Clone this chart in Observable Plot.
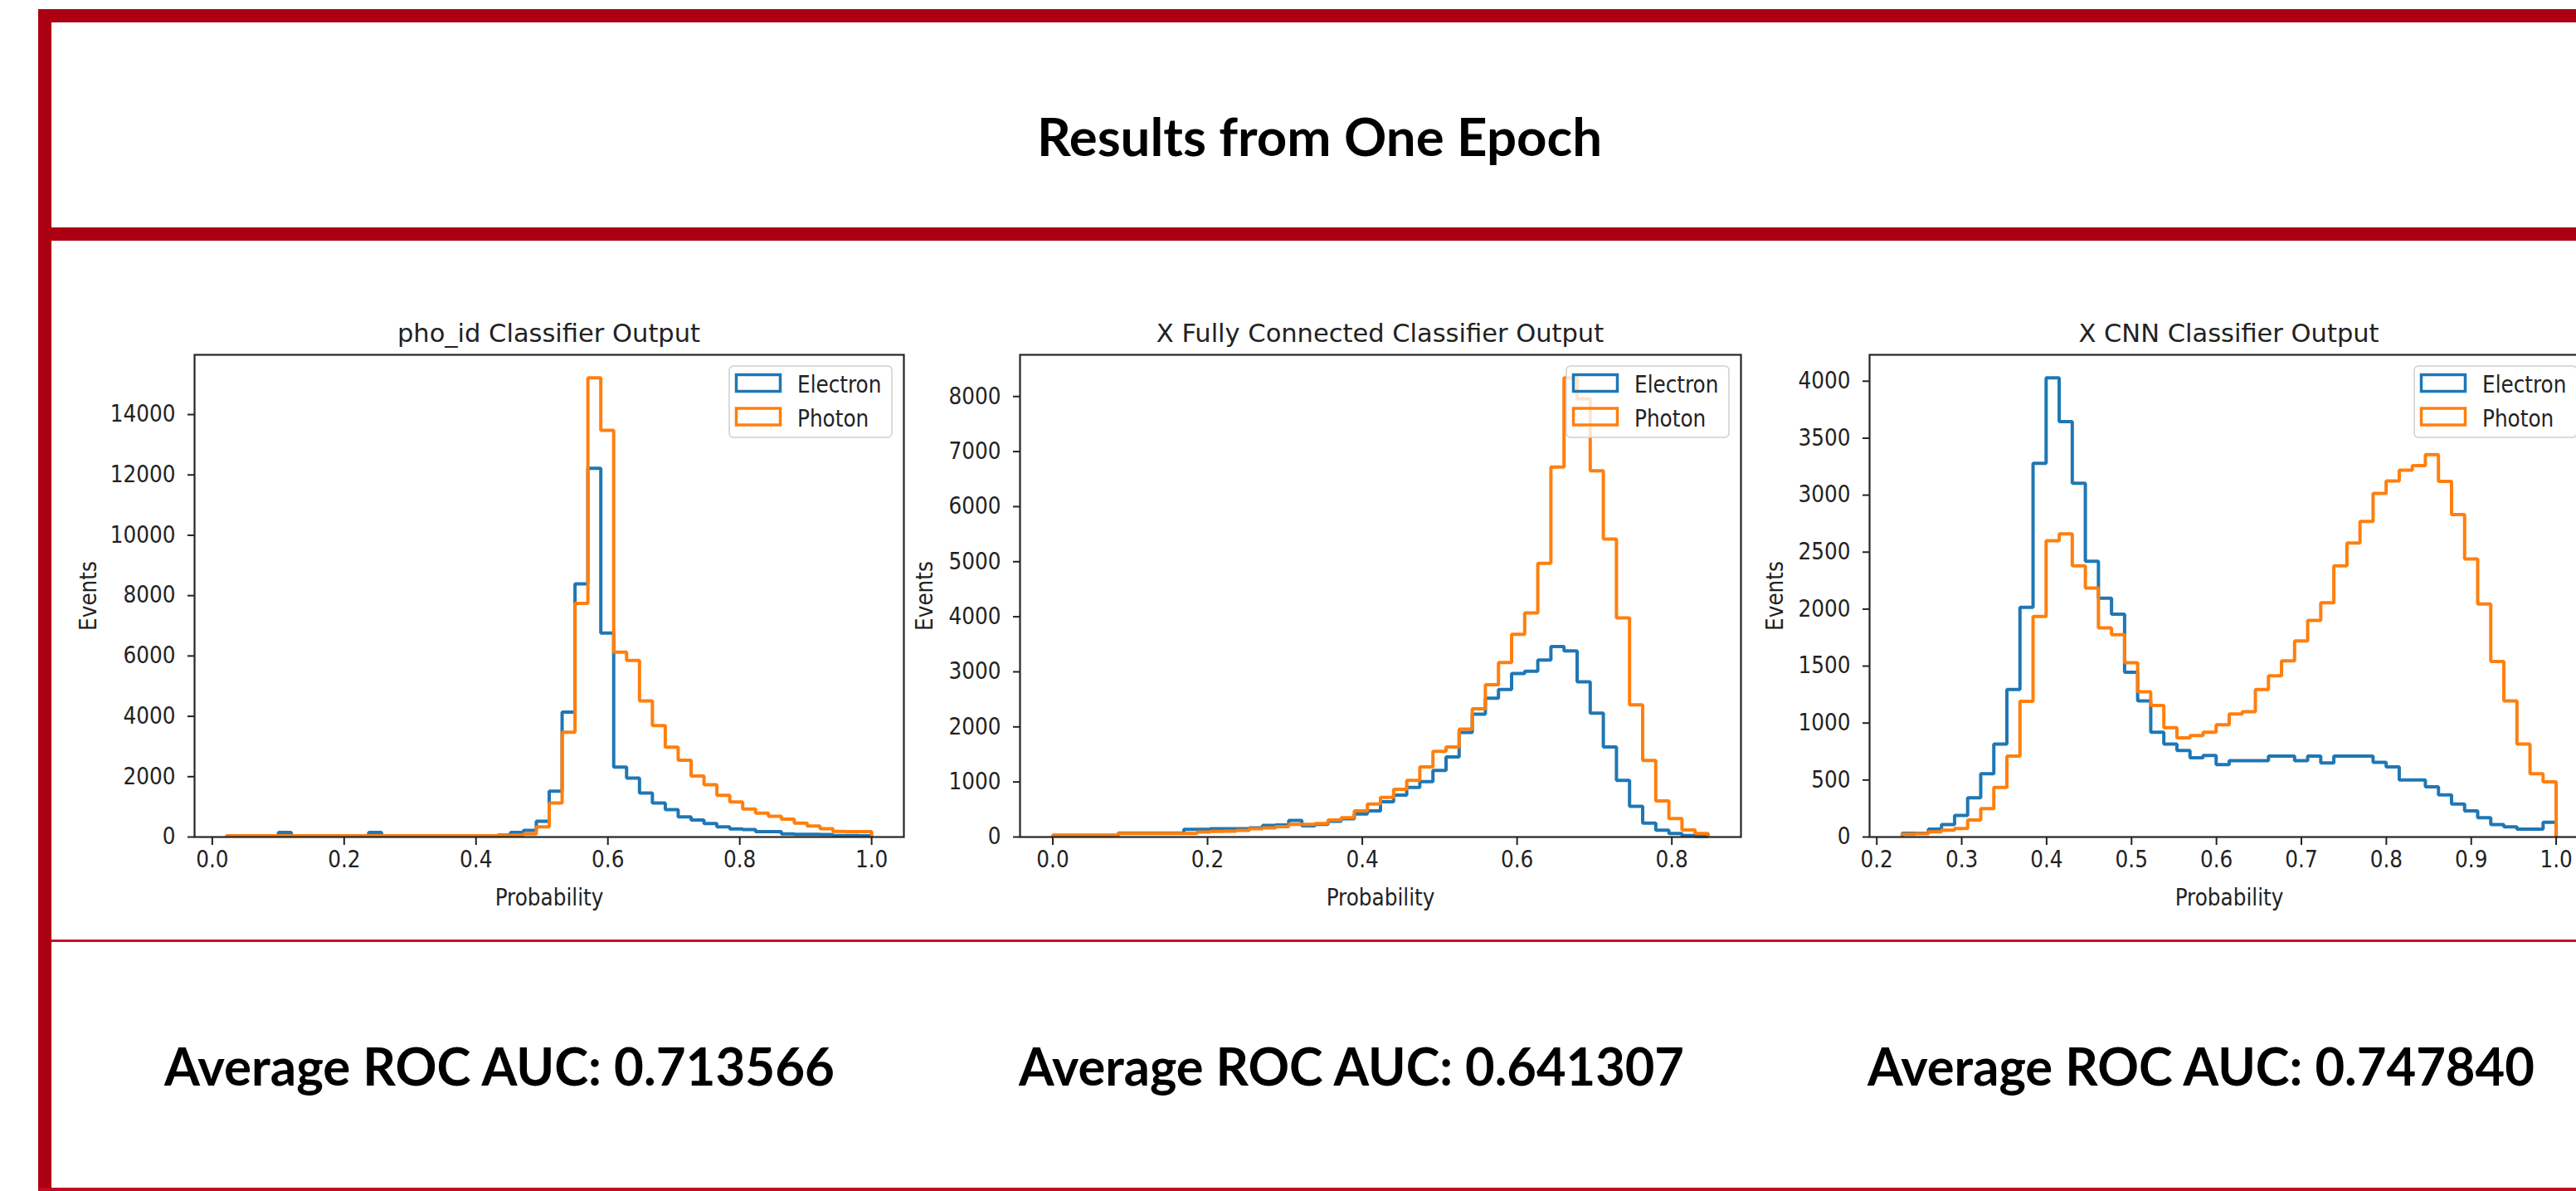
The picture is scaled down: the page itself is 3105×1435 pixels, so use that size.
<!DOCTYPE html>
<html>
<head>
<meta charset="utf-8">
<script src="https://cdn.jsdelivr.net/npm/d3@7"></script>
<script src="https://cdn.jsdelivr.net/npm/@observablehq/plot@0.6"></script>
<style>
  html, body { margin: 0; padding: 0; background: #ffffff; }
  body { width: 3105px; height: 1435px; overflow: hidden; position: relative; }
  .bar { position: absolute; background: #AC0012; }
  .thin { position: absolute; background: #C8102E; }
  #overlay { position: absolute; left: 0; top: 0; pointer-events: none; }
</style>
</head>
<body>
<div class="bar" style="left:46px;top:11px;width:16px;height:1424px"></div>
<div class="bar" style="left:46px;top:11px;width:3059px;height:16px"></div>
<div class="bar" style="left:46px;top:274px;width:3059px;height:16px"></div>
<div class="thin" style="left:62px;top:1132px;width:3043px;height:2.5px"></div>
<div class="thin" style="left:46px;top:1431px;width:3059px;height:4px;background:#BE0A22"></div>
<script>
// ---------------- data ----------------
const pageTitle = "Results from One Epoch";
const panelTitles = ["pho_id Classifier Output", "X Fully Connected Classifier Output", "X CNN Classifier Output"];
const aucLabels = ["Average ROC AUC: 0.713566", "Average ROC AUC: 0.641307", "Average ROC AUC: 0.747840"];
const seriesNames = ["Electron", "Photon"];
const seriesColors = ["#1f77b4", "#ff7f0e"];
const xLabel = "Probability";
const yLabel = "Events";

// pho_id classifier: 50 bins over [0.022, 1.0]
const phoIdRange = [0.022, 1.0];
const phoIdElectron = [40, 40, 40, 40, 150, 40, 40, 40, 40, 40,
  40, 150, 40, 40, 40, 40, 40, 40, 40, 40,
  40, 60, 150, 220, 520, 1520, 4140, 8390, 12220, 6760,
  2320, 1950, 1460, 1130, 910, 670, 565, 450, 340, 270,
  247, 181, 181, 100, 90, 90, 80, 50, 45, 40];
const phoIdPhoton = [40, 40, 40, 40, 40, 40, 40, 40, 40, 40,
  40, 40, 40, 40, 40, 40, 40, 40, 40, 40,
  40, 50, 60, 100, 340, 1130, 3470, 7740, 15220, 13480,
  6130, 5850, 4510, 3690, 2980, 2545, 2020, 1730, 1380, 1160,
  930, 790, 690, 590, 460, 365, 275, 185, 180, 180];
const phoIdXTicks = [0, 0.2, 0.4, 0.6, 0.8, 1.0];
const phoIdYTicks = [0, 2000, 4000, 6000, 8000, 10000, 12000, 14000];

// X fully connected classifier: 50 bins over [0, 0.847]
const fcRange = [0.0, 0.847];
const fcElectron = [30, 30, 30, 30, 30, 70, 70, 70, 70, 70,
  140, 140, 150, 150, 150, 165, 210, 220, 300, 205,
  230, 285, 330, 420, 475, 640, 760, 900, 1005, 1210,
  1455, 1900, 2230, 2520, 2680, 2970, 3010, 3215, 3460, 3380,
  2820, 2250, 1635, 1030, 556, 254, 123, 65, 25, 10];
const fcPhoton = [30, 30, 30, 30, 30, 65, 65, 65, 65, 65,
  65, 90, 100, 105, 120, 150, 165, 190, 230, 230,
  245, 310, 350, 475, 600, 720, 865, 1030, 1275, 1555,
  1635, 1960, 2330, 2765, 3170, 3680, 4070, 4970, 6720, 8340,
  7960, 6650, 5410, 3980, 2400, 1390, 655, 335, 130, 65];
const fcXTicks = [0, 0.2, 0.4, 0.6, 0.8];
const fcYTicks = [0, 1000, 2000, 3000, 4000, 5000, 6000, 7000, 8000];

// X CNN classifier: 50 bins over [0.23, 1.0]
const cnnRange = [0.23, 1.0];
const cnnElectron = [32, 32, 70, 110, 190, 345, 555, 815, 1295, 2015,
  3280, 4030, 3645, 3105, 2420, 2095, 1955, 1445, 1195, 920,
  815, 760, 695, 715, 635, 670, 670, 670, 710, 710,
  670, 710, 650, 710, 710, 710, 655, 615, 500, 500,
  440, 370, 290, 230, 170, 110, 90, 70, 70, 130];
const cnnPhoton = [25, 30, 45, 60, 75, 150, 250, 435, 710, 1190,
  1935, 2600, 2660, 2380, 2185, 1835, 1775, 1530, 1275, 1155,
  960, 870, 890, 920, 985, 1080, 1100, 1295, 1415, 1545,
  1720, 1900, 2055, 2380, 2580, 2770, 3015, 3125, 3220, 3260,
  3355, 3120, 2830, 2440, 2045, 1540, 1195, 815, 555, 485];
const cnnXTicks = [0.2, 0.3, 0.4, 0.5, 0.6, 0.7, 0.8, 0.9, 1.0];
const cnnYTicks = [0, 500, 1000, 1500, 2000, 2500, 3000, 3500, 4000];

// ---------------- layout ----------------
const frames = [
  {left: 234, right: 1089, top: 427, bottom: 1008, yLabelOffset: 138},
  {left: 1229, right: 2098, top: 427, bottom: 1008, yLabelOffset: 125},
  {left: 2253, right: 3120, top: 427, bottom: 1008, yLabelOffset: 124}
];
const panels = [
  {range: phoIdRange, series: [phoIdElectron, phoIdPhoton], xTicks: phoIdXTicks, yTicks: phoIdYTicks},
  {range: fcRange, series: [fcElectron, fcPhoton], xTicks: fcXTicks, yTicks: fcYTicks},
  {range: cnnRange, series: [cnnElectron, cnnPhoton], xTicks: cnnXTicks, yTicks: cnnYTicks}
];

// outline of a step histogram (matplotlib histtype="step")
function stepPoints(range, counts) {
  const n = counts.length, w = (range[1] - range[0]) / n;
  const pts = [{x: range[0], y: 0}];
  counts.forEach((c, i) => pts.push({x: range[0] + i * w, y: c}));
  pts.push({x: range[1], y: counts[n - 1]});
  pts.push({x: range[1], y: 0});
  return pts;
}

const mL = 175, mR = 4, mT = 4, mB = 100;
const tickFont = "'DejaVu Sans Condensed', 'DejaVu Sans', sans-serif";

panels.forEach((p, k) => {
  const f = frames[k];
  const [lo, hi] = p.range;
  const pad = 0.05 * (hi - lo);
  const ymax = 1.05 * d3.max(p.series.flat());
  const chart = Plot.plot({
    width: f.right - f.left + mL + mR,
    height: f.bottom - f.top + mT + mB,
    marginLeft: mL, marginRight: mR, marginTop: mT, marginBottom: mB,
    x: {domain: [lo - pad, hi + pad]},
    y: {domain: [0, ymax]},
    style: {fontFamily: tickFont, fontStretch: "condensed", fontSize: "27.5px", color: "#222222", background: "transparent", overflow: "visible", maxWidth: "none"},
    marks: [
      ...p.series.map((s, j) => Plot.line(stepPoints(p.range, s), {
        x: "x", y: "y", curve: "step-after", stroke: seriesColors[j], strokeWidth: 4,
        strokeLinejoin: "miter", strokeLinecap: "butt"
      })),
      Plot.frame({stroke: "#262626", strokeWidth: 2.2}),
      Plot.axisX({ticks: p.xTicks, tickFormat: d => d.toFixed(1), tickSize: 10, tickPadding: 7, strokeWidth: 2,
        label: xLabel, labelAnchor: "center", labelOffset: 82, labelArrow: "none"}),
      Plot.axisY({ticks: p.yTicks, tickFormat: d => String(d), tickSize: 8, tickPadding: 15, strokeWidth: 2,
        label: yLabel, labelAnchor: "center", labelOffset: f.yLabelOffset, labelArrow: "none"})
    ]
  });
  chart.style.position = "absolute";
  chart.style.left = (f.left - mL) + "px";
  chart.style.top = (f.top - mT) + "px";
  document.body.appendChild(chart);
});

// ---------------- titles, legends, captions ----------------
const ov = d3.select("body").append("svg").attr("id", "overlay").attr("width", 3105).attr("height", 1435);

ov.append("text").text(pageTitle)
  .attr("x", 1250).attr("y", 188)
  .attr("textLength", 681).attr("lengthAdjust", "spacingAndGlyphs")
  .style("font-family", "Lato, 'Open Sans', sans-serif").style("font-weight", 700).style("font-size", "63px").attr("fill", "#000");

const aucX = [198, 1228, 2251];
const aucW = [808, 802, 804];
aucLabels.forEach((t, k) => {
  ov.append("text").text(t)
    .attr("x", aucX[k]).attr("y", 1308)
    .attr("textLength", aucW[k]).attr("lengthAdjust", "spacingAndGlyphs")
    .style("font-family", "Lato, 'Open Sans', sans-serif").style("font-weight", 700).style("font-size", "63px").attr("fill", "#000");
});

frames.forEach((f, k) => {
  ov.append("text").text(panelTitles[k])
    .attr("x", (f.left + f.right) / 2).attr("y", 411.7).attr("text-anchor", "middle")
    .style("font-family", "'DejaVu Sans', sans-serif").style("font-size", "30.5px").attr("fill", "#222222");

  const bx = f.right - 210, by = f.top + 14;
  const g = ov.append("g");
  g.append("rect").attr("x", bx).attr("y", by).attr("width", 196).attr("height", 86).attr("rx", 5)
    .attr("fill", "#fff").attr("fill-opacity", 0.8).attr("stroke", "#d0d0d0").attr("stroke-width", 1.5);
  seriesNames.forEach((name, j) => {
    g.append("rect").attr("x", bx + 8.5).attr("y", by + 10.5 + j * 40.5).attr("width", 53).attr("height", 20)
      .attr("fill", "none").attr("stroke", seriesColors[j]).attr("stroke-width", 3.5);
    g.append("text").text(name).attr("x", bx + 82).attr("y", by + 32 + j * 40.5)
      .style("font-family", tickFont).style("font-stretch", "condensed").style("font-size", "27.5px").attr("fill", "#222222");
  });
});
</script>
</body>
</html>
